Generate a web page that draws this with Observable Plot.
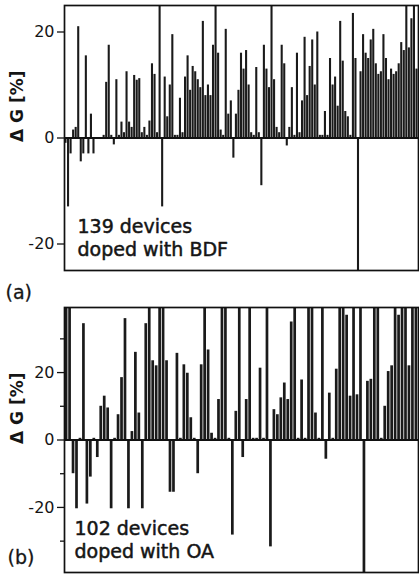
<!DOCTYPE html>
<html><head><meta charset="utf-8">
<script src="https://cdn.jsdelivr.net/npm/d3@7"></script>
<script src="https://cdn.jsdelivr.net/npm/@observablehq/plot@0.6"></script>
<style>
body{margin:0;background:#fff;}
#wrap{position:relative;width:419px;height:574px;font-family:"DejaVu Sans",sans-serif;}
#wrap svg{position:absolute;left:0;}
</style></head><body><div id="wrap"></div>
<script>
// Panel (a): 139 devices doped with BDF, ΔG in %
const bdfValues = [
 -1, -13, -3, 1.5, 2, 21, -4.5, -3, 15.5, -3,
 4.5, -3, 0, 0, 0, 0.5, 10.5, 17.5, 0.5, -1.3,
 11, 0.5, 3, 1, 12.5, 3, 2, 11.8, 10.9, 11.2,
 1, 2, 0.5, 3.2, 14, 12, 1, 26, -13, 11.5,
 4, 10, 19.5, 0.5, 0.5, 7.5, 1, 11.5, 15.5, 9,
 13.5, 12.5, 11, 9.5, 22, 8, 10, 8, 17.5, 26,
 16, 1.5, 0.5, 20.5, 4.5, 7, -3.8, 4.5, 9, 16,
 13, 16.5, 10, 1, 0.5, 13.3, 1, -9, 17.5, 13,
 9.5, 26, 11, 2, 1, 17.5, 14, -1.5, 2, 9.5,
 0.5, 16, 1, 7, 19, 8, 13.5, 18.5, 10, 20,
 0.5, 0.5, 5, 0.5, 15, 10, 11.5, 6, 22, 14.5,
 5, 4, 0.5, 23.5, 15, -26, 12.5, 19.5, 16, 15,
 18.5, 20.5, 14, 12, 12.5, 19.5, 15, 11, 13, 12,
 12.5, 14, 18, 16.5, 26, 17, 22.5, 26, 13
];
// Panel (b): 102 devices doped with OA, ΔG in %
const oaValues = [
 40, 40, -10, -20.4, 0.5, 34.5, -19, -11, 0.5, -5.2,
 10, 13, 9.5, -20.4, 0.5, 7.5, 18.5, 36, -20.4, 2.5,
 26, 8, -20.4, 34.5, 40, 23.5, 22, 40, 40, 23.5,
 -15.5, -15.5, 25.7, 0.5, 22.3, 19.8, 6.6, 0.5, -10, 22.3,
 40, 26.7, 2, 0.5, 12, 40, 40, 0.5, -28.2, 8.5,
 40, -5.2, 12, 40, 0.5, 0.5, 21.3, 0.5, 40, -31.7,
 9, 7.5, 12.5, 16.9, 12, 35, 40, 0.5, 17.8, 0.5,
 40, 40, 8, 0.5, 40, -5.7, 13.9, 0.5, 21, 40,
 40, 37, 13, 40, 13.4, 40, -40, 17.4, 18, 40,
 40, 0.5, 10, 20.3, 22, 40, 37, 40, 40, 22,
 40, 40
];
const ticksA = [-20, 0, 20];
const ticksB = [-20, 0, 20];
const minorB = [-30, -10, 10, 30];
const noteA = ["139 devices\ndoped with BDF"];
const noteB = ["102 devices\ndoped with OA"];
const yLabel = "\u0394 G [%]";

function panel(o) {
  const data = o.values.map((v, i) => ({i, v}));
  return Plot.plot({
    width: 419, height: o.height,
    marginLeft: 64, marginRight: 1, marginTop: o.marginTop, marginBottom: o.marginBottom,
    style: {background: "transparent", fontFamily: "DejaVu Sans, sans-serif", fontSize: "16px", color: "#151515", overflow: "visible"},
    x: {type: "band", domain: d3.range(o.values.length), padding: o.padding, axis: null},
    y: {domain: o.domain, axis: null},
    marks: [
      Plot.barY(data, {x: "i", y: "v", fill: "#1a1a1a", clip: true}),
      Plot.ruleY([0], {stroke: "#111", strokeWidth: 2}),
      Plot.axisY(o.ticks, {tickSize: 7, tickPadding: 3, fontSize: 16, tickFormat: d => String(d), label: null, stroke: "#111", strokeWidth: 1.3}),
      o.minor ? Plot.axisY(o.minor, {tickSize: 4, tickFormat: () => "", label: null, stroke: "#111", strokeWidth: 1.3}) : null,
      Plot.frame({stroke: "#111", strokeWidth: 1.7}),
      Plot.text(o.note, {text: d => d, frameAnchor: "bottom-left", textAnchor: "start", lineAnchor: "bottom", lineHeight: 1.2, dx: o.noteDx, dy: -14.5, fontSize: 19, fill: "#151515", stroke: "#151515", strokeWidth: 0.5}),
      Plot.text([yLabel], {text: d => d, frameAnchor: "left", rotate: -90, dx: -47, dy: 4, fontSize: 17, fontWeight: "bold", fill: "#151515"}),
      Plot.text([o.tag], {text: d => d, frameAnchor: "bottom-left", textAnchor: "start", lineAnchor: "bottom", dx: o.tagDx, dy: o.tagDy, fontSize: 19, fill: "#151515", stroke: "#151515", strokeWidth: 0.3})
    ]
  });
}

const wrap = document.getElementById("wrap");
const a = panel({values: bdfValues, domain: [-25, 25], height: 305, marginTop: 5, marginBottom: 35, padding: 0.18,
  ticks: ticksA, minor: null, note: noteA, noteDx: 13, tag: "(a)", tagDx: -59, tagDy: 28});
a.style.top = "0px";
const b = panel({values: oaValues, domain: [-39.3, 39.3], height: 284, marginTop: 17, marginBottom: 2, padding: 0.22,
  ticks: ticksB, minor: minorB, note: noteB, noteDx: 10, tag: "(b)", tagDx: -57, tagDy: -9});
b.style.top = "290px";
wrap.appendChild(a);
wrap.appendChild(b);
</script></body></html>
